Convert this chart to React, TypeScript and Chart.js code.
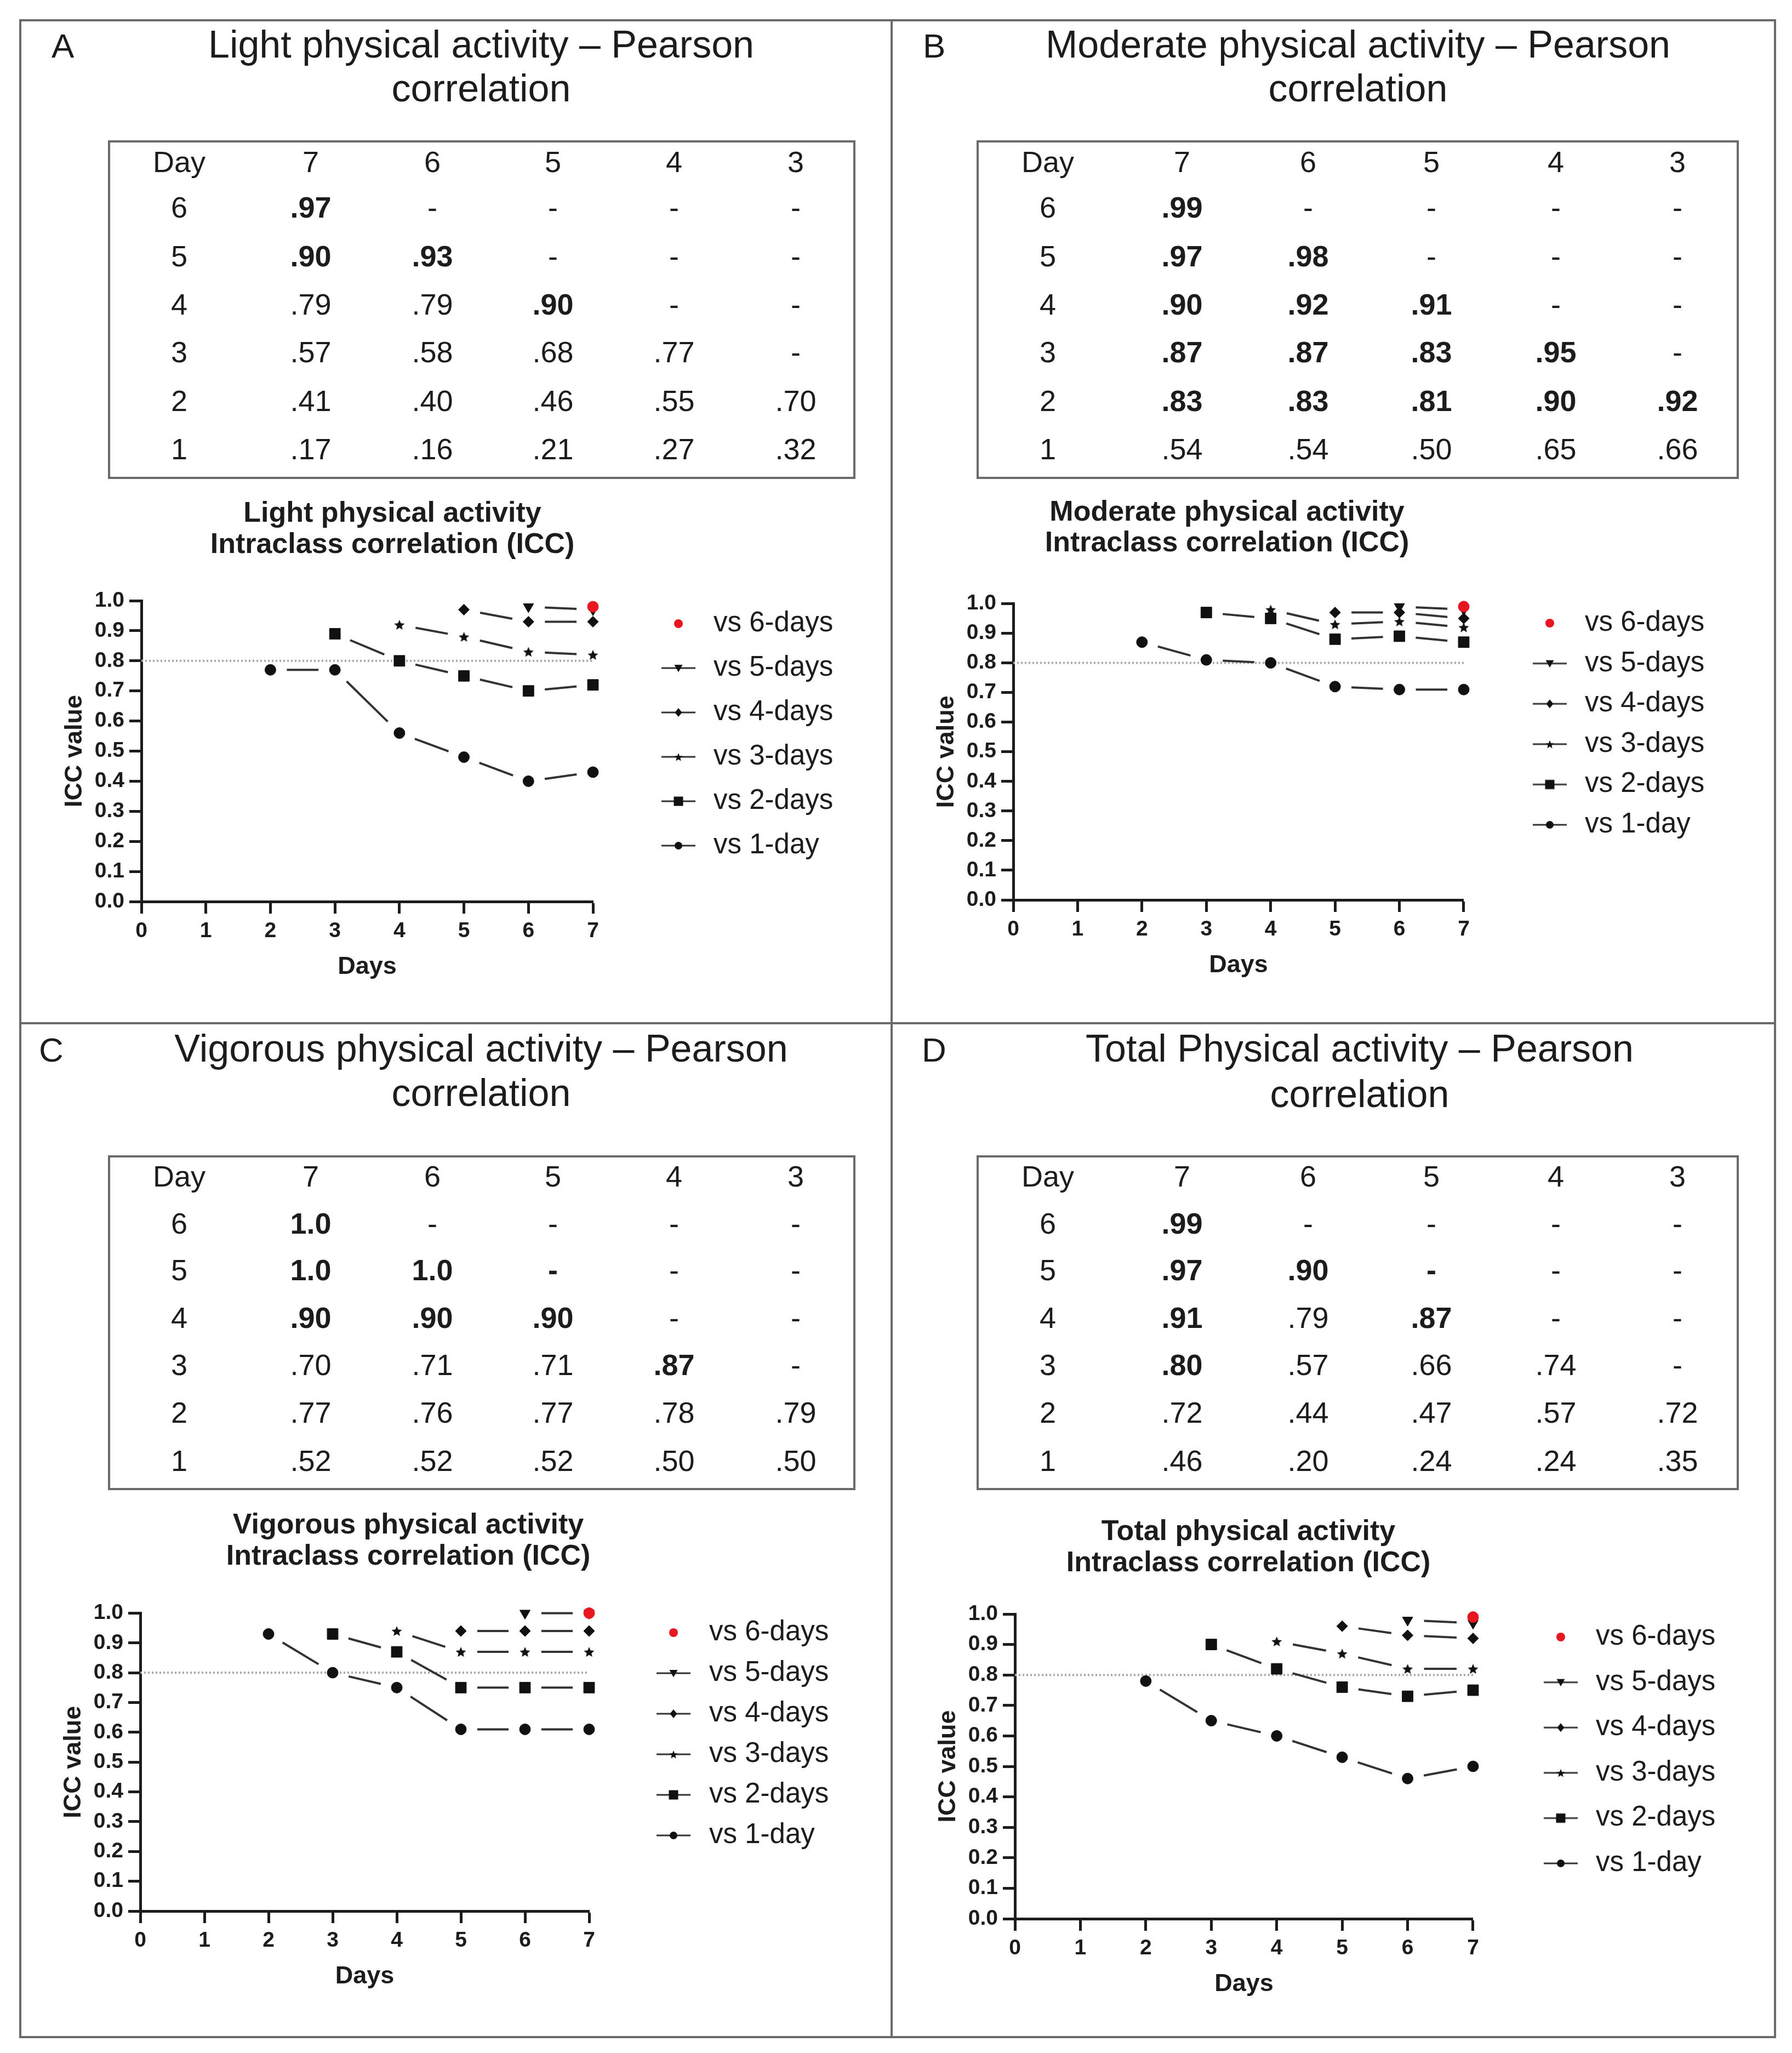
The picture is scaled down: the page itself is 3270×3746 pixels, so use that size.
import React, { useEffect, useRef } from 'react';
import { Chart, registerables } from 'chart.js';

Chart.register(...registerables);

// ---------------- data ----------------
const TABLE_HEADER = ['Day', '7', '6', '5', '4', '3'];
const TABLE_ROW_DAYS = ['6', '5', '4', '3', '2', '1'];

const LIGHT_R = [
  ['.97', '-', '-', '-', '-'],
  ['.90', '.93', '-', '-', '-'],
  ['.79', '.79', '.90', '-', '-'],
  ['.57', '.58', '.68', '.77', '-'],
  ['.41', '.40', '.46', '.55', '.70'],
  ['.17', '.16', '.21', '.27', '.32'],
];
const LIGHT_BOLD = [
  [1, 0, 0, 0, 0],
  [1, 1, 0, 0, 0],
  [0, 0, 1, 0, 0],
  [0, 0, 0, 0, 0],
  [0, 0, 0, 0, 0],
  [0, 0, 0, 0, 0],
];
const MOD_R = [
  ['.99', '-', '-', '-', '-'],
  ['.97', '.98', '-', '-', '-'],
  ['.90', '.92', '.91', '-', '-'],
  ['.87', '.87', '.83', '.95', '-'],
  ['.83', '.83', '.81', '.90', '.92'],
  ['.54', '.54', '.50', '.65', '.66'],
];
const MOD_BOLD = [
  [1, 0, 0, 0, 0],
  [1, 1, 0, 0, 0],
  [1, 1, 1, 0, 0],
  [1, 1, 1, 1, 0],
  [1, 1, 1, 1, 1],
  [0, 0, 0, 0, 0],
];
const VIG_R = [
  ['1.0', '-', '-', '-', '-'],
  ['1.0', '1.0', '-', '-', '-'],
  ['.90', '.90', '.90', '-', '-'],
  ['.70', '.71', '.71', '.87', '-'],
  ['.77', '.76', '.77', '.78', '.79'],
  ['.52', '.52', '.52', '.50', '.50'],
];
const VIG_BOLD = [
  [1, 0, 0, 0, 0],
  [1, 1, 1, 0, 0],
  [1, 1, 1, 0, 0],
  [0, 0, 0, 1, 0],
  [0, 0, 0, 0, 0],
  [0, 0, 0, 0, 0],
];
const TOT_R = [
  ['.99', '-', '-', '-', '-'],
  ['.97', '.90', '-', '-', '-'],
  ['.91', '.79', '.87', '-', '-'],
  ['.80', '.57', '.66', '.74', '-'],
  ['.72', '.44', '.47', '.57', '.72'],
  ['.46', '.20', '.24', '.24', '.35'],
];
const TOT_BOLD = [
  [1, 0, 0, 0, 0],
  [1, 1, 1, 0, 0],
  [1, 0, 1, 0, 0],
  [1, 0, 0, 0, 0],
  [0, 0, 0, 0, 0],
  [0, 0, 0, 0, 0],
];

const SERIES_LABELS = ['vs 6-days', 'vs 5-days', 'vs 4-days', 'vs 3-days', 'vs 2-days', 'vs 1-day'];
const X_VS6 = [7];
const X_VS5 = [6, 7];
const X_VS4 = [5, 6, 7];
const X_VS3 = [4, 5, 6, 7];
const X_VS2 = [3, 4, 5, 6, 7];
const X_VS1 = [2, 3, 4, 5, 6, 7];
const X_SERIES = [X_VS6, X_VS5, X_VS4, X_VS3, X_VS2, X_VS1];

const LIGHT_VS6 = [0.98];
const LIGHT_VS5 = [0.98, 0.97];
const LIGHT_VS4 = [0.97, 0.93, 0.93];
const LIGHT_VS3 = [0.92, 0.88, 0.83, 0.82];
const LIGHT_VS2 = [0.89, 0.80, 0.75, 0.70, 0.72];
const LIGHT_VS1 = [0.77, 0.77, 0.56, 0.48, 0.40, 0.43];

const MOD_VS6 = [0.99];
const MOD_VS5 = [0.99, 0.98];
const MOD_VS4 = [0.97, 0.97, 0.95];
const MOD_VS3 = [0.98, 0.93, 0.94, 0.92];
const MOD_VS2 = [0.97, 0.95, 0.88, 0.89, 0.87];
const MOD_VS1 = [0.87, 0.81, 0.80, 0.72, 0.71, 0.71];

const VIG_VS6 = [1.0];
const VIG_VS5 = [1.0, 1.0];
const VIG_VS4 = [0.94, 0.94, 0.94];
const VIG_VS3 = [0.94, 0.87, 0.87, 0.87];
const VIG_VS2 = [0.93, 0.87, 0.75, 0.75, 0.75];
const VIG_VS1 = [0.93, 0.80, 0.75, 0.61, 0.61, 0.61];

const TOT_VS6 = [0.99];
const TOT_VS5 = [0.98, 0.97];
const TOT_VS4 = [0.96, 0.93, 0.92];
const TOT_VS3 = [0.91, 0.87, 0.82, 0.82];
const TOT_VS2 = [0.90, 0.82, 0.76, 0.73, 0.75];
const TOT_VS1 = [0.78, 0.65, 0.60, 0.53, 0.46, 0.50];

const REFERENCE_ICC = 0.8;
const X_TICK_MIN = 0;
const X_TICK_MAX = 7;

// ---------------- styles ----------------
const FONT = '"Liberation Sans", Arial, Helvetica, sans-serif';
const INK = '#1c1c1c';
const LINE = '#333333';
const RED = '#e8161f';
const FRAME = '#6a6a6a';

const LEG_FS = 51;
const YW = 148;
const XH = 147;
const GAP = 30;

type Geo = {
  left: number; right: number; top: number; bottom: number;
  iconX: number; textX: number; firstY: number; spacing: number;
};

function measureMax(texts: string[], font: string) {
  const c = document.createElement('canvas').getContext('2d') as CanvasRenderingContext2D;
  c.font = font;
  return Math.max(...texts.map((t) => c.measureText(t).width));
}

function starCanvas(r: number, color: string) {
  const s = Math.ceil(r * 2 + 2);
  const c = document.createElement('canvas');
  c.width = s; c.height = s;
  const g = c.getContext('2d') as CanvasRenderingContext2D;
  g.fillStyle = color;
  g.beginPath();
  for (let i = 0; i < 10; i++) {
    const a = -Math.PI / 2 + (i * Math.PI) / 5;
    const rr = i % 2 === 0 ? r : r * 0.45;
    g.lineTo(s / 2 + rr * Math.cos(a), s / 2 + 1 + rr * Math.sin(a));
  }
  g.closePath();
  g.fill();
  return c;
}

function legendIcon(kind: number) {
  const w = 62, h = 28;
  const c = document.createElement('canvas');
  c.width = w; c.height = h;
  const g = c.getContext('2d') as CanvasRenderingContext2D;
  const cx = w / 2, cy = h / 2;
  if (kind !== 0) {
    g.strokeStyle = LINE; g.lineWidth = 3;
    g.beginPath(); g.moveTo(0, cy); g.lineTo(w, cy); g.stroke();
  }
  g.fillStyle = kind === 0 ? RED : '#111';
  g.beginPath();
  if (kind === 0) g.arc(cx, cy, 8, 0, Math.PI * 2);
  else if (kind === 1) { g.moveTo(cx - 7.5, cy - 6); g.lineTo(cx + 7.5, cy - 6); g.lineTo(cx, cy + 7.5); }
  else if (kind === 2) { g.moveTo(cx, cy - 8); g.lineTo(cx + 6.5, cy); g.lineTo(cx, cy + 8); g.lineTo(cx - 6.5, cy); }
  else if (kind === 3) {
    for (let i = 0; i < 10; i++) {
      const a = -Math.PI / 2 + (i * Math.PI) / 5;
      const rr = i % 2 === 0 ? 8 : 3.5;
      g.lineTo(cx + rr * Math.cos(a), cy + 1 + rr * Math.sin(a));
    }
  } else if (kind === 4) g.rect(cx - 8.5, cy - 8.5, 17, 17);
  else g.arc(cx, cy, 7, 0, Math.PI * 2);
  g.closePath();
  g.fill();
  return c;
}

const gapDash = (ctx: any) => {
  const a = ctx.p0, b = ctx.p1;
  const L = Math.hypot(b.x - a.x, b.y - a.y);
  const d = Math.max(L - 2 * GAP, 0);
  return [0, GAP, d, GAP];
};

function layoutFor(g: Geo) {
  const lp = g.spacing - LEG_FS;
  const boxW = 2 * (g.textX - LEG_FS / 2 - g.iconX);
  const itemX = g.iconX - boxW / 2;
  const legendLeft = itemX - lp;
  const gapRight = legendLeft - g.right;
  const Lc = Math.round(g.left - YW - 10);
  const PL = g.left - YW - Lc;
  const Tc = Math.round(g.firstY - LEG_FS / 2 - lp - 20);
  const PT = g.firstY - LEG_FS / 2 - lp - Tc;
  const gapTop = g.top - Tc - PT;
  const textW = measureMax(SERIES_LABELS, `normal ${LEG_FS}px ${FONT}`);
  const legendW = lp + boxW + LEG_FS / 2 + textW + 10;
  const W = Math.ceil(legendLeft + legendW + 10 - Lc);
  const PR = W - (legendLeft + legendW - Lc);
  const H = Math.ceil(g.bottom + XH + 10 - Tc);
  const PB = H - (g.bottom + XH - Tc);
  return { lp, boxW, gapRight, Lc, PL, Tc, PT, gapTop, W, PR, H, PB };
}

function IccChart({ series, geo }: { series: number[][]; geo: Geo }) {
  const ref = useRef<HTMLCanvasElement>(null);
  const L = layoutFor(geo);
  useEffect(() => {
    const canvas = ref.current as HTMLCanvasElement;
    const star = starCanvas(10, '#111');
    const markers: any[] = [
      { style: 'circle', radius: 10, color: RED, rot: 0 },
      { style: 'triangle', radius: 11, color: '#111', rot: 180 },
      { style: 'rectRot', radius: 10, color: '#111', rot: 0 },
      { style: star, radius: 10, color: '#111', rot: 0 },
      { style: 'rect', radius: 14, color: '#111', rot: 0 },
      { style: 'circle', radius: 10, color: '#111', rot: 0 },
    ];
    const icons = SERIES_LABELS.map((_, i) => legendIcon(i));
    const datasets: any[] = series.map((ys, i) => ({
      label: SERIES_LABELS[i],
      data: X_SERIES[i].map((x, j) => ({ x, y: ys[j] })),
      xAxisID: 'x',
      yAxisID: 'y',
      borderColor: LINE,
      borderWidth: 4,
      pointStyle: markers[i].style,
      pointRadius: markers[i].radius,
      pointHoverRadius: markers[i].radius,
      pointRotation: markers[i].rot,
      pointBackgroundColor: markers[i].color,
      pointBorderColor: markers[i].color,
      pointBorderWidth: 1,
      clip: false,
      segment: { borderDash: gapDash },
    }));
    datasets.push({
      label: '',
      data: [{ x: X_TICK_MIN, y: REFERENCE_ICC }, { x: X_TICK_MAX, y: REFERENCE_ICC }],
      xAxisID: 'x',
      yAxisID: 'y',
      borderColor: '#a9a9a9',
      borderWidth: 4,
      borderDash: [3, 4],
      pointRadius: 0,
      clip: false,
    });
    const tickFont = { family: FONT, size: 39, weight: 'bold' as const };
    const titleFont = { family: FONT, size: 45, weight: 'bold' as const };
    const chart = new Chart(canvas, {
      type: 'line',
      data: { datasets },
      options: {
        animation: false,
        responsive: false,
        devicePixelRatio: 1,
        events: [],
        layout: { padding: { left: L.PL, top: L.PT, right: L.PR, bottom: L.PB } },
        plugins: {
          tooltip: { enabled: false },
          legend: {
            position: 'right',
            align: 'start',
            maxWidth: 5000,
            labels: {
              usePointStyle: true,
              pointStyleWidth: L.boxW,
              padding: L.lp,
              color: INK,
              font: { family: FONT, size: LEG_FS },
              generateLabels: (ch: any) =>
                ch.data.datasets
                  .map((ds: any, i: number) => ({
                    text: ds.label,
                    pointStyle: icons[i],
                    rotation: 0,
                    datasetIndex: i,
                    hidden: false,
                    fillStyle: '#111',
                    strokeStyle: '#111',
                    lineWidth: 0,
                    fontColor: INK,
                  }))
                  .filter((it: any) => it.text),
            },
          },
        },
        scales: {
          x: {
            type: 'linear',
            position: 'bottom',
            min: X_TICK_MIN,
            max: X_TICK_MAX,
            ticks: { stepSize: 1, autoSkip: false, maxRotation: 0, font: tickFont, color: INK, padding: 9 },
            grid: { drawOnChartArea: false, tickLength: 22, tickWidth: 5, color: INK },
            border: { width: 5, color: INK },
            title: { display: true, text: 'Days', font: titleFont, color: INK, padding: 0 },
            afterFit: (s: any) => { s.height = XH; },
          },
          y: {
            type: 'linear',
            position: 'left',
            min: 0,
            max: 1,
            ticks: {
              stepSize: 0.1,
              autoSkip: false,
              font: tickFont,
              color: INK,
              padding: 9,
              callback: (v: any) => Number(v).toFixed(1),
            },
            grid: { drawOnChartArea: false, tickLength: 22, tickWidth: 5, color: INK },
            border: { width: 5, color: INK },
            title: { display: true, text: 'ICC value', font: titleFont, color: INK, padding: 0 },
            afterFit: (s: any) => { s.width = YW; },
          },
          gapTop: {
            type: 'linear',
            position: 'top',
            display: false,
            afterFit: (s: any) => { s.height = L.gapTop; },
          },
          gapRight: {
            type: 'linear',
            position: 'right',
            display: false,
            afterFit: (s: any) => { s.width = L.gapRight; },
          },
        },
      } as any,
    });
    return () => chart.destroy();
  }, []);
  return (
    <canvas
      ref={ref}
      width={L.W}
      height={L.H}
      style={{ position: 'absolute', left: L.Lc, top: L.Tc, width: L.W, height: L.H }}
    />
  );
}

function Txt({ x, base, size, bold, align, children }: any) {
  const top = base - 0.8465 * size;
  const style: any = {
    position: 'absolute',
    top,
    fontSize: size,
    lineHeight: `${size}px`,
    fontWeight: bold ? 'bold' : 'normal',
    whiteSpace: 'nowrap',
    color: INK,
  };
  if (align === 'left') { style.left = x; }
  else { style.left = x - 1000; style.width = 2000; style.textAlign = 'center'; }
  return <div style={style}>{children}</div>;
}

type PanelCfg = {
  letter: string; letterX: number; titleLines: string[]; titleCx: number; titleBase: number[];
  box: { l: number; t: number; r: number; b: number }; cols: number[]; rows: number[];
  values: string[][]; bold: number[][];
  subLines: string[]; subCx: number; subBase: number[];
  series: number[][]; geo: Geo;
};

const TITLE_FS = 70;
const TABLE_FS = 54;
const SUB_FS = 52;

function Panel({ p }: { p: PanelCfg }) {
  return (
    <>
      <Txt x={p.letterX} base={p.titleBase[0]} size={62} align="left">{p.letter}</Txt>
      {p.titleLines.map((t, i) => (
        <Txt key={'t' + i} x={p.titleCx} base={p.titleBase[i]} size={TITLE_FS}>{t}</Txt>
      ))}
      <div
        style={{
          position: 'absolute', left: p.box.l, top: p.box.t,
          width: p.box.r - p.box.l, height: p.box.b - p.box.t,
          border: `4px solid ${FRAME}`, boxSizing: 'border-box',
        }}
      />
      {TABLE_HEADER.map((h, j) => (
        <Txt key={'h' + j} x={p.cols[j]} base={p.rows[0]} size={TABLE_FS}>{h}</Txt>
      ))}
      {TABLE_ROW_DAYS.map((d, i) => (
        <React.Fragment key={'r' + i}>
          <Txt x={p.cols[0]} base={p.rows[i + 1]} size={TABLE_FS}>{d}</Txt>
          {p.values[i].map((v, j) => (
            <Txt key={'c' + j} x={p.cols[j + 1]} base={p.rows[i + 1]} size={TABLE_FS} bold={p.bold[i][j] === 1}>{v}</Txt>
          ))}
        </React.Fragment>
      ))}
      {p.subLines.map((t, i) => (
        <Txt key={'s' + i} x={p.subCx} base={p.subBase[i]} size={SUB_FS} bold>{t}</Txt>
      ))}
      <IccChart series={p.series} geo={p.geo} />
    </>
  );
}

const COLS_LEFT = [327, 567, 789, 1009, 1230, 1452];
const COLS_RIGHT = [1912, 2157, 2387, 2612, 2839, 3061];
const ROWS_TOP = [314, 397, 486, 574, 661, 750, 838];
const ROWS_BOTTOM = [2165, 2251, 2336, 2423, 2509, 2596, 2684];

const PANELS: PanelCfg[] = [
  {
    letter: 'A', letterX: 94, titleLines: ['Light physical activity – Pearson', 'correlation'], titleCx: 878, titleBase: [105, 185],
    box: { l: 197, t: 256, r: 1561, b: 874 }, cols: COLS_LEFT, rows: ROWS_TOP, values: LIGHT_R, bold: LIGHT_BOLD,
    subLines: ['Light physical activity', 'Intraclass correlation (ICC)'], subCx: 716, subBase: [952, 1009],
    series: [LIGHT_VS6, LIGHT_VS5, LIGHT_VS4, LIGHT_VS3, LIGHT_VS2, LIGHT_VS1],
    geo: { left: 258, right: 1082, top: 1096, bottom: 1645, iconX: 1238, textX: 1302, firstY: 1138, spacing: 81 },
  },
  {
    letter: 'B', letterX: 1684, titleLines: ['Moderate physical activity – Pearson', 'correlation'], titleCx: 2478, titleBase: [105, 185],
    box: { l: 1782, t: 256, r: 3173, b: 874 }, cols: COLS_RIGHT, rows: ROWS_TOP, values: MOD_R, bold: MOD_BOLD,
    subLines: ['Moderate physical activity', 'Intraclass correlation (ICC)'], subCx: 2239, subBase: [950, 1006],
    series: [MOD_VS6, MOD_VS5, MOD_VS4, MOD_VS3, MOD_VS2, MOD_VS1],
    geo: { left: 1849, right: 2671, top: 1094, bottom: 1642, iconX: 2828, textX: 2892, firstY: 1137, spacing: 73.6 },
  },
  {
    letter: 'C', letterX: 71, titleLines: ['Vigorous physical activity – Pearson', 'correlation'], titleCx: 878, titleBase: [1937, 2018],
    box: { l: 197, t: 2108, r: 1561, b: 2719 }, cols: COLS_LEFT, rows: ROWS_BOTTOM, values: VIG_R, bold: VIG_BOLD,
    subLines: ['Vigorous physical activity', 'Intraclass correlation (ICC)'], subCx: 745, subBase: [2798, 2855],
    series: [VIG_VS6, VIG_VS5, VIG_VS4, VIG_VS3, VIG_VS2, VIG_VS1],
    geo: { left: 256, right: 1075, top: 2940, bottom: 3487, iconX: 1229, textX: 1294, firstY: 2979, spacing: 74 },
  },
  {
    letter: 'D', letterX: 1682, titleLines: ['Total Physical activity – Pearson', 'correlation'], titleCx: 2481, titleBase: [1937, 2020],
    box: { l: 1782, t: 2108, r: 3173, b: 2719 }, cols: COLS_RIGHT, rows: ROWS_BOTTOM, values: TOT_R, bold: TOT_BOLD,
    subLines: ['Total physical activity', 'Intraclass correlation (ICC)'], subCx: 2278, subBase: [2810, 2867],
    series: [TOT_VS6, TOT_VS5, TOT_VS4, TOT_VS3, TOT_VS2, TOT_VS1],
    geo: { left: 1852, right: 2688, top: 2945, bottom: 3501, iconX: 2848, textX: 2912, firstY: 2987, spacing: 82.6 },
  },
];

export default function App() {
  return (
    <div
      style={{
        position: 'absolute', left: 0, top: 0, width: 3270, height: 3746,
        background: '#ffffff', overflow: 'hidden', fontFamily: FONT, color: INK,
      }}
    >
      <div
        style={{
          position: 'absolute', left: 35, top: 35, width: 3206, height: 3684,
          border: `4px solid ${FRAME}`, boxSizing: 'border-box',
        }}
      />
      <div style={{ position: 'absolute', left: 1625, top: 35, width: 4, height: 3684, background: FRAME }} />
      <div style={{ position: 'absolute', left: 35, top: 1865, width: 3206, height: 4, background: FRAME }} />
      {PANELS.map((p, i) => (
        <Panel key={i} p={p} />
      ))}
    </div>
  );
}
